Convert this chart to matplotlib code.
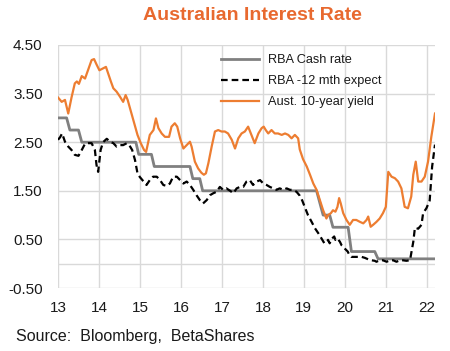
import numpy as np
import matplotlib
matplotlib.use('Agg')
import matplotlib.pyplot as plt

plt.rcParams['font.family'] = ['Liberation Sans', 'DejaVu Sans']

# RBA cash rate (fractional year, %)
cash_x = [13.00, 13.21, 13.29, 13.50, 13.58, 14.90, 14.97, 15.28, 15.35, 16.22, 16.29,
          16.46, 16.53, 19.31, 19.39, 19.47, 19.63, 19.71, 20.08, 20.16, 20.73, 20.81, 22.20]
cash_v = [3.00, 3.00, 2.75, 2.75, 2.50, 2.50, 2.25, 2.25, 2.00, 2.00, 1.75,
          1.75, 1.50, 1.50, 1.25, 1.00, 1.00, 0.75, 0.75, 0.25, 0.25, 0.10, 0.10]

# RBA 12 month ahead expectation
exp_x = [13.00, 13.05, 13.10, 13.17, 13.25, 13.33, 13.41, 13.50, 13.58, 13.66, 13.74, 13.82,
         13.90, 13.94, 13.98, 14.04, 14.10, 14.19, 14.27, 14.35, 14.43, 14.51, 14.59, 14.68,
         14.76, 14.81, 14.88, 14.94, 15.00, 15.08, 15.16, 15.24, 15.32, 15.41, 15.49, 15.57,
         15.65, 15.73, 15.81, 15.90, 15.98, 16.06, 16.14, 16.22, 16.30, 16.38, 16.46, 16.54,
         16.63, 16.71, 16.79, 16.87, 16.95, 17.03, 17.11, 17.20, 17.28, 17.36, 17.44, 17.52,
         17.60, 17.68, 17.76, 17.85, 17.93, 18.01, 18.09, 18.17, 18.25, 18.33, 18.41, 18.50,
         18.58, 18.66, 18.74, 18.82, 18.90, 18.96, 19.02, 19.10, 19.19, 19.27, 19.35, 19.43,
         19.50, 19.55, 19.59, 19.63, 19.69, 19.74, 19.77, 19.82, 19.88, 19.92, 19.96, 20.00,
         20.07, 20.11, 20.16, 20.24, 20.32, 20.41, 20.49, 20.57, 20.65, 20.73, 20.77, 20.85,
         20.93, 21.02, 21.10, 21.18, 21.26, 21.34, 21.42, 21.50, 21.59, 21.67, 21.71, 21.79,
         21.87, 21.91, 21.99, 22.07, 22.13, 22.20]
exp_v = [2.55, 2.60, 2.68, 2.51, 2.41, 2.34, 2.24, 2.22, 2.34, 2.47, 2.48, 2.48,
         2.34, 2.03, 1.89, 2.34, 2.50, 2.57, 2.51, 2.48, 2.41, 2.44, 2.44, 2.48,
         2.41, 2.34, 2.13, 1.86, 1.78, 1.70, 1.62, 1.72, 1.79, 1.79, 1.72, 1.62,
         1.60, 1.65, 1.79, 1.79, 1.72, 1.65, 1.69, 1.62, 1.52, 1.41, 1.31, 1.24,
         1.31, 1.41, 1.45, 1.48, 1.58, 1.52, 1.55, 1.50, 1.45, 1.55, 1.58, 1.58,
         1.69, 1.72, 1.62, 1.69, 1.72, 1.65, 1.62, 1.58, 1.55, 1.52, 1.55, 1.52,
         1.55, 1.52, 1.52, 1.48, 1.40, 1.30, 1.17, 1.00, 0.86, 0.73, 0.63, 0.52,
         0.42, 0.45, 0.49, 0.42, 0.52, 0.56, 0.49, 0.52, 0.45, 0.38, 0.35, 0.31,
         0.25, 0.18, 0.14, 0.14, 0.14, 0.14, 0.12, 0.09, 0.07, 0.06, 0.04, 0.07,
         0.07, 0.04, 0.07, 0.07, 0.04, 0.07, 0.07, 0.06, 0.07, 0.45, 0.74, 0.72,
         0.80, 1.04, 1.14, 1.30, 2.00, 2.45]

# Australian 10-year government bond yield
yld_x = [13.00, 13.05, 13.09, 13.17, 13.25, 13.33, 13.41, 13.46, 13.51, 13.58, 13.66, 13.74,
         13.82, 13.88, 13.94, 14.01, 14.10, 14.17, 14.21, 14.29, 14.35, 14.43, 14.51, 14.59,
         14.65, 14.70, 14.78, 14.86, 14.94, 15.02, 15.10, 15.15, 15.24, 15.33, 15.39, 15.45,
         15.53, 15.61, 15.71, 15.77, 15.85, 15.91, 15.98, 16.06, 16.14, 16.22, 16.26, 16.34,
         16.42, 16.50, 16.56, 16.61, 16.67, 16.75, 16.83, 16.91, 16.99, 17.07, 17.15, 17.24,
         17.32, 17.40, 17.48, 17.56, 17.64, 17.72, 17.80, 17.89, 17.97, 18.02, 18.07, 18.13,
         18.21, 18.29, 18.37, 18.46, 18.54, 18.62, 18.70, 18.78, 18.86, 18.90, 18.98, 19.07,
         19.15, 19.23, 19.31, 19.39, 19.47, 19.55, 19.59, 19.66, 19.71, 19.77, 19.82, 19.86,
         19.90, 19.96, 20.04, 20.12, 20.20, 20.28, 20.37, 20.45, 20.53, 20.57, 20.63, 20.69,
         20.77, 20.85, 20.93, 21.00, 21.06, 21.14, 21.22, 21.30, 21.38, 21.46, 21.54, 21.62,
         21.67, 21.73, 21.79, 21.87, 21.95, 22.03, 22.11, 22.20]
yld_v = [3.42, 3.37, 3.33, 3.37, 3.09, 3.42, 3.71, 3.75, 3.70, 3.86, 3.81, 4.00,
         4.19, 4.21, 4.10, 3.98, 4.02, 4.05, 3.95, 3.75, 3.61, 3.54, 3.44, 3.33,
         3.47, 3.37, 3.13, 2.89, 2.65, 2.48, 2.34, 2.30, 2.65, 2.75, 2.99, 2.79,
         2.68, 2.61, 2.61, 2.82, 2.89, 2.82, 2.58, 2.37, 2.44, 2.51, 2.41, 2.10,
         1.96, 1.87, 1.83, 1.86, 2.07, 2.41, 2.72, 2.75, 2.72, 2.72, 2.68, 2.55,
         2.37, 2.58, 2.68, 2.72, 2.82, 2.65, 2.48, 2.68, 2.79, 2.82, 2.75, 2.68,
         2.75, 2.68, 2.68, 2.65, 2.68, 2.65, 2.58, 2.65, 2.58, 2.35, 2.15, 2.00,
         1.83, 1.65, 1.52, 1.31, 1.10, 0.93, 1.00, 1.04, 1.10, 1.07, 1.17, 1.35,
         1.24, 1.04, 0.90, 0.80, 0.90, 0.90, 0.86, 0.83, 0.90, 0.97, 0.76, 0.80,
         0.86, 0.93, 1.04, 1.17, 1.89, 1.79, 1.76, 1.69, 1.55, 1.17, 1.14, 1.38,
         1.83, 2.10, 1.69, 1.69, 1.79, 2.10, 2.61, 3.09]

year_ticks = list(range(13, 23))
rate_ticks = [4.5, 3.5, 2.5, 1.5, 0.5, -0.5]

orange = '#ED7D31'
grid_col = '#D9D9D9'

fig = plt.figure(figsize=(4.5, 3.51), dpi=100)
ax = fig.add_axes([58 / 450, 1 - 288 / 351, (435 - 58) / 450, (288 - 45) / 351])

ax.plot(cash_x, cash_v, color='#808080', lw=2.0, label='RBA Cash rate', zorder=3)
ax.plot(exp_x, exp_v, color='black', lw=1.6, ls=(0, (3, 1.8)),
        label='RBA -12 mth expect', zorder=4)
ax.plot(yld_x, yld_v, color=orange, lw=1.6, label='Aust. 10-year yield', zorder=5)

ax.set_xlim(13, 22.2)
ax.set_ylim(-0.5, 4.5)
ax.set_xticks(year_ticks)
ax.set_xticklabels([str(y) for y in year_ticks])
ax.set_yticks(rate_ticks)
ax.set_yticklabels(['%.2f' % v for v in rate_ticks])
ax.tick_params(length=0, labelsize=11, colors='#1a1a1a')
ax.tick_params(axis='x', pad=9)
ax.tick_params(axis='y', pad=11)

ax.grid(True, color=grid_col, lw=1)
ax.axhline(0, color=grid_col, lw=1, zorder=1)
ax.set_axisbelow(True)
for s in ax.spines.values():
    s.set_visible(False)

leg = ax.legend(loc='upper left', bbox_to_anchor=((221 - 58) / 377, 1 - (54 - 45) / 243),
                frameon=False, fontsize=9.2, handlelength=3.0, handletextpad=0.7,
                labelspacing=0.72, borderaxespad=0, borderpad=0)
for t in leg.get_texts():
    t.set_color('#1a1a1a')

fig.text(252 / 450, 1 - 16 / 351, 'Australian Interest Rate', color='#E8692F',
         fontsize=14, fontweight='bold', ha='center', va='center')
fig.text(16 / 450, 1 - 337 / 351, 'Source:  Bloomberg,  BetaShares', color='#1a1a1a',
         fontsize=11.5, ha='left', va='center')

fig.savefig('out.png', dpi=100)
